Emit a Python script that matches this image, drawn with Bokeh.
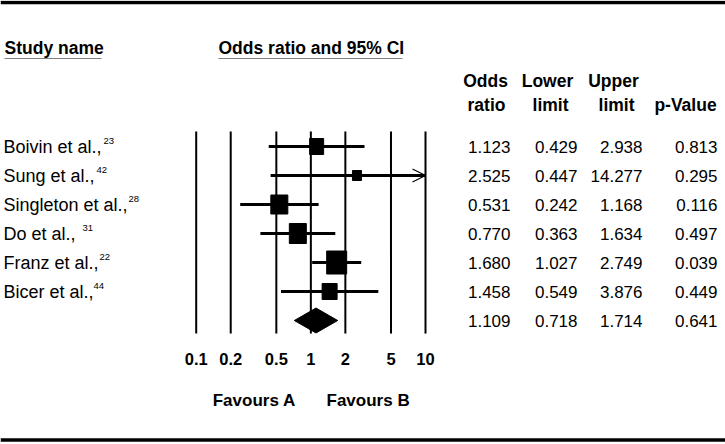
from bokeh.plotting import figure
from bokeh.models import (Range1d, LogScale, ColumnDataSource, Arrow, OpenHead,
                          GlobalInlineStyleSheet)
from bokeh.core.properties import value
from bokeh.embed import file_html
from bokeh.resources import INLINE

# ---------------- data ----------------
studies = ["Boivin et al.,", "Sung et al.,", "Singleton et al.,", "Do et al.,",
           "Franz et al.,", "Bicer et al.,"]
refs = ["23", "42", "28", "31", "22", "44"]
odds_ratio = [1.123, 2.525, 0.531, 0.770, 1.680, 1.458]
lower_limit = [0.429, 0.447, 0.242, 0.363, 1.027, 0.549]
upper_limit = [2.938, 14.277, 1.168, 1.634, 2.749, 3.876]
p_value = [0.813, 0.295, 0.116, 0.497, 0.039, 0.449]
summary_or = 1.109
summary_lower = 0.718
summary_upper = 1.714
summary_p = 0.641
axis_ticks = [0.1, 0.2, 0.5, 1, 2, 5, 10]
axis_tick_labels = ["0.1", "0.2", "0.5", "1", "2", "5", "10"]
favour_labels = ["Favours A", "Favours B"]
col_head_1 = ["Odds", "Lower", "Upper"]
col_head_2 = ["ratio", "limit", "limit", "p-Value"]

# ---------------- layout / styles ----------------
W, H = 725, 444
PX_ONE, PX_DECADE = 310.35, 114.65      # pixel of OR=1, pixels per decade
ROW0, ROW_STEP = 146, 29                # pixel of first row, row pitch
box_w = [14, 9, 17, 17, 20, 15]         # study box sizes (screen px)
box_h = [16, 10, 19, 20, 23, 16]
sup_x = [103, 96, 128, 82, 99, 93]
col_right = [510, 577, 642, 717]
head1_x = [485, 547, 613]
head2_x = [486, 550, 616, 685]
FONT = value("Liberation Sans")
AX_MAX = max(axis_ticks)

p = figure(width=W, height=H, x_range=Range1d(0, W), y_range=Range1d(H, 0),
           output_backend="svg", toolbar_location=None, min_border=0,
           x_axis_location=None, y_axis_location=None, outline_line_color=None)
p.background_fill_color = "white"
p.border_fill_color = "white"
p.xgrid.grid_line_color = None
p.ygrid.grid_line_color = None
p.grid.visible = False
p.extra_x_ranges = {"or": Range1d(10 ** (-PX_ONE / PX_DECADE), 10 ** ((W - PX_ONE) / PX_DECADE))}
p.extra_x_scales = {"or": LogScale()}
p.extra_y_ranges = {"rows": Range1d((H - ROW0) / ROW_STEP, -ROW0 / ROW_STEP)}
p.stylesheets = [GlobalInlineStyleSheet(css="html,body{margin:0;padding:0;overflow:hidden;}")]

n = len(studies)
rows = list(range(n))
src = ColumnDataSource(dict(
    row=rows, name=studies, ref=refs, odds=odds_ratio, lo=lower_limit,
    hi=[min(u, AX_MAX) for u in upper_limit], bw=box_w, bh=box_h, sx=sup_x))

# vertical reference lines at the axis ticks
p.segment(x0=axis_ticks, x1=axis_ticks, y0=-0.52, y1=6.45, x_range_name="or",
          y_range_name="rows", line_color="black", line_width=2)

# confidence intervals
p.segment(x0="lo", x1="hi", y0="row", y1="row", source=src, x_range_name="or",
          y_range_name="rows", line_color="black", line_width=3)
for i in rows:
    if upper_limit[i] > AX_MAX:
        p.add_layout(Arrow(end=OpenHead(size=13, line_width=1.2, line_color="black"),
                           x_start=lower_limit[i], x_end=AX_MAX, y_start=i, y_end=i,
                           x_range_name="or", y_range_name="rows",
                           line_width=2.5, line_color="black"))

# study boxes
p.rect(x="odds", y="row", width="bw", height="bh", width_units="screen",
       height_units="screen", source=src, x_range_name="or", y_range_name="rows",
       fill_color="black", line_color="black")

# summary diamond
d = 0.43
p.patch(x=[summary_lower, summary_or, summary_upper, summary_or],
        y=[n, n - d, n, n + d], x_range_name="or", y_range_name="rows",
        fill_color="black", line_color="black")

# axis labels
bold = dict(text_font=FONT, text_font_style="bold", text_baseline="middle",
            text_color="black")
p.text(x=axis_ticks, y=[358] * len(axis_ticks), text=axis_tick_labels, x_range_name="or",
       text_font_size="16.5px", text_align="center", **bold)
p.text(x=[0.74], y=[400], text=[favour_labels[0]], x_range_name="or",
       text_font_size="17px", text_align="right", **bold)
p.text(x=[1.37], y=[400], text=[favour_labels[1]], x_range_name="or",
       text_font_size="17px", text_align="left", **bold)

# study names + reference superscripts
p.text(x=3, y="row", text="name", source=src, y_range_name="rows",
       text_font=FONT, text_font_size="18px", text_align="left",
       text_baseline="middle", text_color="black")
p.text(x="sx", y="row", text="ref", source=src, y_range_name="rows", y_offset=-6,
       text_font=FONT, text_font_size="9.5px", text_align="left",
       text_baseline="middle", text_color="black")

# table columns
all_rows = rows + [n]
cols = [odds_ratio + [summary_or], lower_limit + [summary_lower],
        upper_limit + [summary_upper], p_value + [summary_p]]
for cx, vals in zip(col_right, cols):
    p.text(x=[cx] * len(all_rows), y=all_rows, text=["%.3f" % v for v in vals],
           y_range_name="rows", text_font=FONT, text_font_size="17px",
           text_align="right", text_baseline="middle", text_color="black")

# headers
p.text(x=[4, 218], y=[47, 47], text=["Study name", "Odds ratio and 95% CI"],
       text_align="left", text_font_size="17.5px", **bold)
p.text(x=head1_x, y=[80] * 3, text=col_head_1, text_align="center",
       text_font_size="17.5px", **bold)
p.text(x=head2_x, y=[104] * 4, text=col_head_2, text_align="center",
       text_font_size="17.5px", **bold)
p.segment(x0=[4, 218], x1=[101, 402], y0=[58, 58], y1=[58, 58],
          line_color="#808080", line_width=1)

# top and bottom rules
p.segment(x0=[0, 0], x1=[W, W], y0=[2, 439.5], y1=[2, 439.5],
          line_color="black", line_width=3.5)

open("out.html", "w").write(file_html(p, INLINE))
